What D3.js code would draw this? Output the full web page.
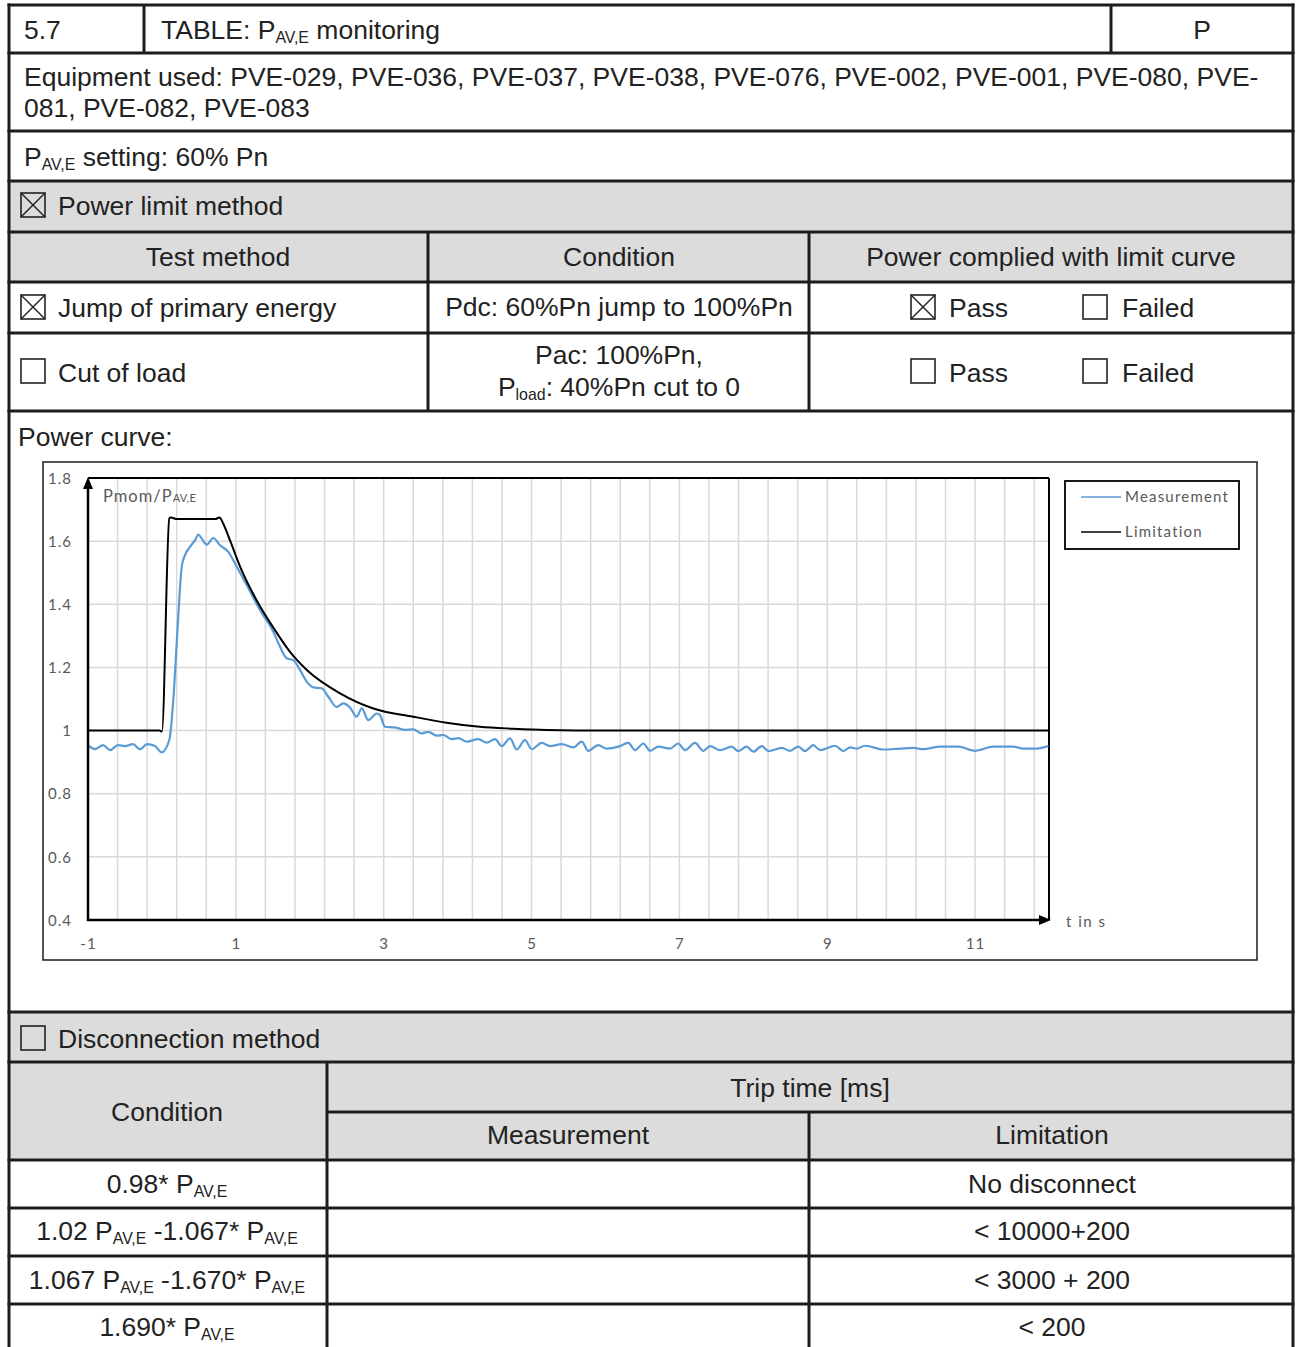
<!DOCTYPE html>
<html><head><meta charset="utf-8">
<script src="https://cdn.jsdelivr.net/npm/d3@7"></script>
<style>
html,body{margin:0;padding:0;background:#fff;}
svg{display:block;}
</style></head>
<body>
<svg id="c" width="1300" height="1347"></svg>
<script>
// ---------- data ----------
const measT = [-1.00,-0.905,-0.797,-0.702,-0.594,-0.499,-0.391,-0.297,-0.202,-0.094,-0.003,0.10,0.154,0.208,0.268,0.312,0.38,0.448,0.492,0.538,0.606,0.695,0.786,0.898,1.012,1.147,1.327,1.507,1.597,1.688,1.777,1.868,1.959,2.048,2.162,2.251,2.364,2.454,2.544,2.635,2.703,2.792,2.906,2.95,3.018,3.153,3.288,3.401,3.514,3.604,3.717,3.807,3.92,4.01,4.123,4.28,4.394,4.506,4.597,4.709,4.80,4.912,5.002,5.138,5.25,5.408,5.565,5.679,5.768,5.903,6.017,6.174,6.309,6.40,6.512,6.603,6.715,6.873,6.986,7.076,7.211,7.324,7.414,7.55,7.708,7.797,7.911,8.00,8.114,8.203,8.385,8.497,8.609,8.70,8.812,8.903,9.106,9.218,9.309,9.399,9.511,9.759,9.985,10.165,10.30,10.526,10.774,10.999,11.247,11.518,11.653,11.834,11.991];
const measV = [0.954,0.941,0.954,0.938,0.954,0.951,0.957,0.941,0.957,0.951,0.931,0.97,1.097,1.309,1.519,1.556,1.582,1.603,1.621,1.608,1.589,1.61,1.587,1.566,1.519,1.461,1.382,1.313,1.266,1.229,1.223,1.192,1.155,1.137,1.134,1.107,1.075,1.086,1.073,1.044,1.07,1.033,1.054,1.049,1.012,1.010,1.002,1.004,0.991,0.996,0.984,0.986,0.973,0.976,0.965,0.973,0.962,0.973,0.951,0.975,0.94,0.97,0.941,0.961,0.951,0.957,0.947,0.965,0.936,0.954,0.943,0.949,0.961,0.938,0.959,0.936,0.949,0.943,0.959,0.938,0.961,0.936,0.951,0.938,0.949,0.935,0.949,0.933,0.951,0.935,0.945,0.936,0.949,0.935,0.954,0.938,0.952,0.935,0.947,0.943,0.952,0.94,0.943,0.945,0.941,0.949,0.949,0.936,0.949,0.949,0.943,0.943,0.951];
const limT = [-1.0,-0.03,0.0,0.10,0.12,0.2,0.72,0.78,0.83,0.92,1.06,1.28,1.51,1.73,1.96,2.41,2.86,3.40,3.85,4.30,4.75,5.2,6.0,12.0];
const limV = [1.0,1.0,0.997,1.672,1.675,1.67,1.67,1.675,1.655,1.603,1.518,1.413,1.325,1.25,1.192,1.118,1.07,1.044,1.025,1.012,1.006,1.002,1.0,1.0];
const xTickLabels = [-1,1,3,5,7,9,11];
const yTickValues = [0.4,0.6,0.8,1,1.2,1.4,1.6,1.8];
const seriesNames = ["Measurement","Limitation"];
const seriesColors = ["#5B9BD5","#000000"];

// ---------- helpers ----------
const svg = d3.select("#c");
const FONT = "'Liberation Sans', Arial, sans-serif";
const FS = 26.5;
const TXT = "#222";
const BORDER = "#1c1c1c";
const GRAY = "#dcdcdc";

function txt(x, y, parts, anchor, size) {
  size = size || FS;
  const t = svg.append("text").attr("x", x).attr("y", y)
    .attr("font-family", FONT).attr("font-size", size).attr("fill", TXT)
    .attr("text-anchor", anchor || "start");
  let down = false;
  parts.forEach(p => {
    if (typeof p === "string") {
      const s = t.append("tspan").text(p);
      if (down) { s.attr("dy", -4); down = false; }
    } else {
      t.append("tspan").text(p.sub).attr("font-size", size*0.6).attr("dy", down ? 0 : 4);
      down = true;
    }
  });
  return t;
}
function fillRect(x0,y0,x1,y1,c){ svg.append("rect").attr("x",x0).attr("y",y0).attr("width",x1-x0).attr("height",y1-y0).attr("fill",c); }
function hline(x0,x1,y){ svg.append("line").attr("x1",x0).attr("x2",x1).attr("y1",y).attr("y2",y).attr("stroke",BORDER).attr("stroke-width",3); }
function vline(x,y0,y1){ svg.append("line").attr("x1",x).attr("x2",x).attr("y1",y0).attr("y2",y1).attr("stroke",BORDER).attr("stroke-width",3); }
function checkbox(x,y,checked){
  const g = svg.append("g");
  g.append("rect").attr("x",x).attr("y",y).attr("width",24).attr("height",24).attr("fill","none").attr("stroke","#222").attr("stroke-width",1.6);
  if (checked) {
    g.append("line").attr("x1",x).attr("y1",y).attr("x2",x+24).attr("y2",y+24).attr("stroke","#222").attr("stroke-width",1.5);
    g.append("line").attr("x1",x+24).attr("y1",y).attr("x2",x).attr("y2",y+24).attr("stroke","#222").attr("stroke-width",1.5);
  }
}

// ---------- table backgrounds ----------
const L = 9, R = 1293;
fillRect(L,181,R,282,GRAY);
fillRect(L,1012,R,1160,GRAY);

// ---------- table lines ----------
[5,53,131,181,232,282,333,411,1012,1062,1160,1208,1256,1304].forEach(y=>hline(L-1.5,R+1.5,y));
hline(327,R,1112);
vline(L,3.5,1347); vline(R,3.5,1347);
vline(144,5,53); vline(1111,5,53);
vline(428,232,411); vline(809,232,411);
vline(327,1062,1347); vline(809,1112,1347);

// ---------- table text ----------
txt(24,39,["5.7"]);
txt(161,39,["TABLE: P",{sub:"AV,E"}," monitoring"]);
txt(1202,39,["P"],"middle");
txt(24,86,["Equipment used: PVE-029, PVE-036, PVE-037, PVE-038, PVE-076, PVE-002, PVE-001, PVE-080, PVE-"]);
txt(24,117,["081, PVE-082, PVE-083"]);
txt(24,166,["P",{sub:"AV,E"}," setting: 60% Pn"]);
checkbox(21,193,true); txt(58,215,["Power limit method"]);
txt(218,266,["Test method"],"middle");
txt(619,266,["Condition"],"middle");
txt(1051,266,["Power complied with limit curve"],"middle");
checkbox(21,295,true); txt(58,317,["Jump of primary energy"]);
txt(619,316,["Pdc: 60%Pn jump to 100%Pn"],"middle");
checkbox(911,295,true); txt(949,317,["Pass"]);
checkbox(1083,295,false); txt(1122,317,["Failed"]);
checkbox(21,359,false); txt(58,382,["Cut of load"]);
txt(619,364,["Pac: 100%Pn,"],"middle");
txt(619,396,["P",{sub:"load"},": 40%Pn cut to 0"],"middle");
checkbox(911,359,false); txt(949,382,["Pass"]);
checkbox(1083,359,false); txt(1122,382,["Failed"]);
txt(18,446,["Power curve:"]);
checkbox(21,1026,false); txt(58,1048,["Disconnection method"]);
txt(167,1121,["Condition"],"middle");
txt(810,1097,["Trip time [ms]"],"middle");
txt(568,1144,["Measurement"],"middle");
txt(1052,1144,["Limitation"],"middle");
txt(167,1193,["0.98* P",{sub:"AV,E"}],"middle");
txt(1052,1193,["No disconnect"],"middle");
txt(167,1240,["1.02 P",{sub:"AV,E"}," -1.067* P",{sub:"AV,E"}],"middle");
txt(1052,1240,["< 10000+200"],"middle");
txt(167,1289,["1.067 P",{sub:"AV,E"}," -1.670* P",{sub:"AV,E"}],"middle");
txt(1052,1289,["< 3000 + 200"],"middle");
txt(167,1336,["1.690* P",{sub:"AV,E"}],"middle");
txt(1052,1336,["< 200"],"middle");

// ---------- chart ----------
const CF = "Lato, 'Open Sans', sans-serif";
const CG = "#595959";
svg.append("rect").attr("x",43).attr("y",462).attr("width",1214).attr("height",498)
  .attr("fill","#fff").attr("stroke","#1c1c1c").attr("stroke-width",1.5);

const x = d3.scaleLinear().domain([-1,12]).range([88,1049]);
const y = d3.scaleLinear().domain([0.4,1.8]).range([920,478]);
const plot = svg.append("g");

// vertical gridlines every 0.4 s
const vGrid = d3.range(0, 33).map(i => -1 + i*0.4).filter(v => v > -1 && v < 12);
plot.append("g").selectAll("line").data(vGrid).join("line")
  .attr("x1",d=>x(d)).attr("x2",d=>x(d)).attr("y1",y(1.8)).attr("y2",y(0.4))
  .attr("stroke","#d9d9d9").attr("stroke-width",1.5);
// horizontal gridlines
plot.append("g").selectAll("line").data(yTickValues.filter(v=>v>0.4 && v<1.8)).join("line")
  .attr("x1",x(-1)).attr("x2",x(12)).attr("y1",d=>y(d)).attr("y2",d=>y(d))
  .attr("stroke","#d9d9d9").attr("stroke-width",1.5);

// top & right borders
plot.append("line").attr("x1",x(-1)).attr("x2",x(12)).attr("y1",y(1.8)).attr("y2",y(1.8)).attr("stroke","#000").attr("stroke-width",2);
plot.append("line").attr("x1",x(12)).attr("x2",x(12)).attr("y1",y(1.8)).attr("y2",y(0.4)).attr("stroke","#000").attr("stroke-width",2);

// series
const line = d3.line().x(d=>x(d[0])).y(d=>y(d[1])).curve(d3.curveMonotoneX);
const measData = measT.map((t,i)=>[t,measV[i]]);
const limData = limT.map((t,i)=>[t,limV[i]]);
plot.append("path").datum(measData).attr("d",line).attr("fill","none").attr("stroke",seriesColors[0]).attr("stroke-width",2.2);
plot.append("path").datum(limData).attr("d",line).attr("fill","none").attr("stroke",seriesColors[1]).attr("stroke-width",2);

// axes with arrows
const xAxis = d3.axisBottom(x).tickValues(xTickLabels).tickSize(0).tickPadding(0).tickFormat(d=>String(d));
const gx = svg.append("g").attr("transform",`translate(0,${y(0.4)})`).call(xAxis);
gx.select(".domain").remove();
gx.selectAll("text").attr("font-family",CF).attr("font-size",15).attr("letter-spacing",1).attr("fill",CG).attr("dy",0).attr("y",29);
const yAxis = d3.axisLeft(y).tickValues(yTickValues).tickSize(0).tickFormat(d=>String(d));
const gy = svg.append("g").attr("transform",`translate(${x(-1)},0)`).call(yAxis);
gy.select(".domain").remove();
gy.selectAll("text").attr("font-family",CF).attr("font-size",15).attr("letter-spacing",1).attr("fill",CG).attr("x",-16).attr("dy","0.35em");

svg.append("line").attr("x1",x(-1)).attr("x2",x(-1)).attr("y1",y(0.4)+1).attr("y2",y(1.8)+8).attr("stroke","#000").attr("stroke-width",2.5);
svg.append("path").attr("d",`M${x(-1)},${y(1.8)-1} l-5,12 l10,0 z`).attr("fill","#000");
svg.append("line").attr("x1",x(-1)-1).attr("x2",x(12)-6).attr("y1",y(0.4)).attr("y2",y(0.4)).attr("stroke","#000").attr("stroke-width",2.5);
svg.append("path").attr("d",`M${x(12)+2},${y(0.4)} l-12,-5 l0,10 z`).attr("fill","#000");

// axis titles
const yt = svg.append("text").attr("x",103).attr("y",502).attr("font-family",CF).attr("font-size",16.5).attr("letter-spacing",1).attr("fill",CG);
yt.append("tspan").text("Pmom/P");
yt.append("tspan").text("AV,E").attr("font-size",11).attr("letter-spacing",0.3);
svg.append("text").attr("x",1066).attr("y",927).attr("font-family",CF).attr("font-size",15).attr("fill",CG).attr("letter-spacing",1.5).text("t in s");

// legend
const lg = svg.append("g");
lg.append("rect").attr("x",1065).attr("y",481).attr("width",174).attr("height",68).attr("fill","#fff").attr("stroke","#000").attr("stroke-width",1.8);
seriesNames.forEach((n,i)=>{
  const yy = 497 + i*35;
  lg.append("line").attr("x1",1081).attr("x2",1121).attr("y1",yy).attr("y2",yy).attr("stroke",seriesColors[i]).attr("stroke-width",1.6);
  lg.append("text").attr("x",1125).attr("y",yy).attr("dy","0.35em").attr("font-family",CF).attr("font-size",15).attr("letter-spacing",1.2).attr("fill",CG).text(n);
});
</script>
</body></html>
